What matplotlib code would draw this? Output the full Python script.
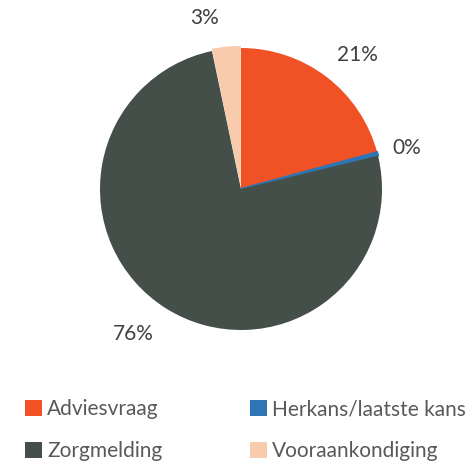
import numpy as np
import matplotlib.pyplot as plt
from matplotlib.patches import Patch

labels = ['Adviesvraag', 'Herkans/laatste kans', 'Zorgmelding', 'Vooraankondiging']
values = [20.8, 0.4, 75.5, 3.3]
colors = ['#F05125', '#2E75B6', '#454F49', '#F8CBAD']
explode = [0, 0, 0, 0.015]

# label placement tweaks (radius, angle offset in degrees) to mimic best-fit labels
label_r = [1.26, 1.21, 1.28, 1.24]
label_dang = [-3.5, -0.5, -4.5, 6.0]

plt.rcParams['font.family'] = ['Lato', 'DejaVu Sans']

fig = plt.figure(figsize=(4.76, 4.62), dpi=100)
# pie centre ~ (241, 189) px, radius ~141 px
ax = fig.add_axes([100 / 476, 1 - 330 / 462, 282 / 476, 282 / 462])

wedges, texts = ax.pie(values, colors=colors, startangle=90, counterclock=False,
                       explode=explode, radius=1.0,
                       wedgeprops=dict(linewidth=0.6, edgecolor='none'))
wedges[1].set_edgecolor(colors[1])
wedges[1].set_linewidth(1.5)

for w, v, r, da in zip(wedges, values, label_r, label_dang):
    mid = np.deg2rad((w.theta1 + w.theta2) / 2 + da)
    ax.text(r * np.cos(mid), r * np.sin(mid), f'{v:.0f}%', ha='center', va='center',
            fontsize=15, color='#404040')

ax.set_xlim(-1, 1)
ax.set_ylim(-1, 1)
ax.set_aspect('equal')
ax.axis('off')

order = [0, 2, 1, 3]
handles = [Patch(facecolor=colors[i], edgecolor='none') for i in order]
fig.legend(handles, [labels[i] for i in order], ncol=2, frameon=False,
           loc='upper left', bbox_to_anchor=(15 / 476, 1 - 389 / 462),
           fontsize=15, labelcolor='#595959', handlelength=0.8, handleheight=0.8,
           handletextpad=0.25, labelspacing=1.05, columnspacing=4.2, borderpad=0)

fig.savefig('out.png', dpi=100)
